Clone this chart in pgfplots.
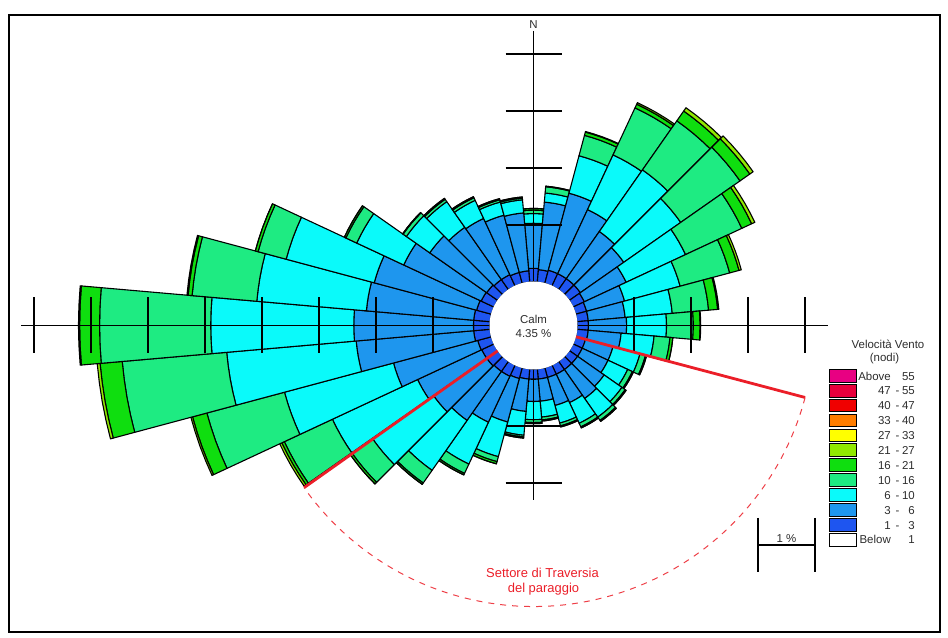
\documentclass[border=0pt]{standalone}
\usepackage{pgfplots}
\pgfplotsset{compat=1.18}
\usepackage{pgfplotstable}
\usepackage{fontspec}
\setmainfont{Liberation Sans}

\definecolor{wA}{RGB}{30,85,240}    % 1-3
\definecolor{wB}{RGB}{30,150,238}   % 3-6
\definecolor{wC}{RGB}{10,250,250}   % 6-10
\definecolor{wD}{RGB}{30,235,130}   % 10-16
\definecolor{wE}{RGB}{15,222,15}    % 16-21
\definecolor{wF}{RGB}{145,232,0}    % 21-27
\definecolor{wG}{RGB}{255,255,0}    % 27-33
\definecolor{wH}{RGB}{255,125,0}    % 33-40
\definecolor{wI}{RGB}{240,0,0}      % 40-47
\definecolor{wJ}{RGB}{232,0,60}     % 47-55
\definecolor{wK}{RGB}{232,0,130}    % above 55
\definecolor{tred}{RGB}{235,30,40}
\definecolor{tgray}{RGB}{45,45,45}

% cumulative frequency (%) per direction, bands 1-3, 3-6, 6-10, 10-16, 16-21, 21-27 knots
\pgfplotstableread{
dir c1 c2 c3 c4 c5 c6
0 0.24 1.03 1.20 1.26 1.29 1.29
10 0.22 1.41 1.57 1.68 1.69 1.69
20 0.24 1.64 2.32 2.69 2.75 2.76
30 0.24 1.48 2.54 3.45 3.52 3.55
40 0.24 1.25 2.57 3.62 3.83 3.90
50 0.24 1.17 2.39 3.66 3.87 3.94
60 0.22 1.03 2.18 3.27 3.46 3.52
70 0.20 0.89 1.90 2.80 2.97 3.01
80 0.20 0.85 1.68 2.32 2.48 2.50
90 0.20 0.87 1.57 2.04 2.16 2.17
100 0.20 0.78 1.36 1.64 1.69 1.69
110 0.18 0.68 1.17 1.27 1.29 1.29
120 0.18 0.68 1.06 1.15 1.17 1.17
130 0.18 0.75 1.13 1.20 1.22 1.22
140 0.18 0.80 1.20 1.27 1.29 1.29
150 0.18 0.73 1.13 1.20 1.22 1.22
160 0.18 0.69 1.01 1.06 1.08 1.08
170 0.18 0.57 0.85 0.90 0.92 0.92
180 0.18 0.57 0.89 0.94 0.96 0.96
190 0.18 0.75 1.17 1.20 1.22 1.22
200 0.20 0.99 1.62 1.71 1.75 1.75
210 0.22 1.11 1.92 2.10 2.13 2.13
220 0.22 1.27 2.34 2.61 2.64 2.64
230 0.24 1.38 2.69 3.13 3.17 3.17
240 0.24 1.48 3.13 4.06 4.11 4.15
250 0.25 1.78 3.76 5.17 5.43 5.46
260 0.29 2.36 4.64 6.48 6.87 6.92
270 0.29 2.39 4.90 6.85 7.20 7.22
280 0.29 2.18 4.11 5.25 5.32 5.34
290 0.27 2.13 3.73 4.24 4.29 4.29
300 0.25 1.75 2.66 2.87 2.90 2.90
310 0.24 1.46 1.96 2.03 2.04 2.04
320 0.22 1.34 1.89 1.94 1.96 1.96
330 0.22 1.31 1.66 1.71 1.73 1.73
340 0.20 1.24 1.48 1.52 1.54 1.54
350 0.20 1.22 1.45 1.48 1.50 1.50
}\rosetable

\def\roff{0.7632}% radius of the calm circle, in %

% one cell: #1 direction (deg from N), #2 inner, #3 outer cumulative %, #4 colour
\newcommand\rosecell[4]{%
  \pgfmathsetmacro\aA{90-#1-5}%
  \pgfmathsetmacro\aB{90-#1-2.5}%
  \pgfmathsetmacro\aC{90-#1}%
  \pgfmathsetmacro\aD{90-#1+2.5}%
  \pgfmathsetmacro\aE{90-#1+5}%
  \pgfmathsetmacro\rIn{#2+\roff}%
  \pgfmathsetmacro\rOut{#3+\roff}%
  \edef\tmp{\noexpand\addplot[forget plot, data cs=polar, fill=#4, draw=black,
    line width=1.1bp, line join=round]
    coordinates {(\aA,\rIn) (\aA,\rOut) (\aB,\rOut) (\aC,\rOut) (\aD,\rOut) (\aE,\rOut)
                 (\aE,\rIn) (\aD,\rIn) (\aC,\rIn) (\aB,\rIn)} -- cycle;}%
  \tmp}

\newcommand\lgfont{\fontsize{11.5}{13}\selectfont}

\begin{document}
\begin{tikzpicture}
\begin{axis}[
  at={(0,0)}, anchor=south west,
  x=57bp, y=57bp,
  xmin=-9.35965, xmax=7.27193, ymin=-5.46491, ymax=5.71053,
  hide axis, clip=false]
\pgfplotsinvokeforeach{0,...,35}{%
  \pgfplotstablegetelem{#1}{dir}\of\rosetable \let\dd\pgfplotsretval
  \pgfplotstablegetelem{#1}{c1}\of\rosetable \let\cA\pgfplotsretval
  \pgfplotstablegetelem{#1}{c2}\of\rosetable \let\cB\pgfplotsretval
  \pgfplotstablegetelem{#1}{c3}\of\rosetable \let\cC\pgfplotsretval
  \pgfplotstablegetelem{#1}{c4}\of\rosetable \let\cD\pgfplotsretval
  \pgfplotstablegetelem{#1}{c5}\of\rosetable \let\cE\pgfplotsretval
  \pgfplotstablegetelem{#1}{c6}\of\rosetable \let\cF\pgfplotsretval
  \rosecell{\dd}{0}{\cA}{wA}
  \rosecell{\dd}{\cA}{\cB}{wB}
  \rosecell{\dd}{\cB}{\cC}{wC}
  \rosecell{\dd}{\cC}{\cD}{wD}
  \rosecell{\dd}{\cD}{\cE}{wE}
  \rosecell{\dd}{\cE}{\cF}{wF}
}
\end{axis}

% overlay in pixel units (origin top-left, y downwards)
\begin{scope}[shift={(0bp,637bp)}, x=1bp, y=-1bp]
  \path (0,0) rectangle (948,637);
  \draw[line width=2bp] (8.5,15) rectangle (940,632);
  % compass axes
  \draw[line width=1.3bp] (21,325.5) -- (828,325.5);
  \draw[line width=1.3bp] (533.5,31) -- (533.5,500);
  \foreach \k in {1,...,8} \draw[line width=1.3bp] ({490-57*\k},297.5) -- ++(0,56);
  \foreach \k in {1,...,4} \draw[line width=1.3bp] ({577+57*\k},297.5) -- ++(0,56);
  \foreach \k in {1,...,4} \draw[line width=1.3bp] (505.5,{282-57*\k}) -- ++(56,0);
  \foreach \k in {1,2} \draw[line width=1.3bp] (505.5,{369+57*\k}) -- ++(56,0);
  \node[font=\lgfont, text=tgray, anchor=base] at (533.5,29) {N};
  % calm circle
  \fill[white] (533.5,325.5) circle[radius=44bp];
  \node[font=\lgfont, text=tgray, anchor=base] at (533.5,324) {Calm};
  \node[font=\lgfont, text=tgray, anchor=base] at (533.5,337.5) {4.35 \%};
  % sector of exposure
  \draw[tred, line width=2.8bp] (576.0,336.8) -- (805.1,397.5);
  \draw[tred, line width=2.8bp] (497.6,350.9) -- (304.0,487.7);
  \draw[tred!85, line width=1bp, dash pattern=on 6bp off 6bp]
     (805.1,397.5) arc[start angle=14.85, end angle=144.75, radius=281];
  \node[font=\fontsize{13}{15}\selectfont, text=tred, anchor=base] at (542.5,578) {Settore di Traversia};
  \node[font=\fontsize{13}{15}\selectfont, text=tred, anchor=base] at (543.5,592.5) {del paraggio};
  % scale bar
  \draw[line width=1.3bp] (758,518) -- (758,572);
  \draw[line width=1.3bp] (815,518) -- (815,572);
  \draw[line width=1.3bp] (758,545) -- (815,545);
  \node[font=\lgfont, text=tgray, anchor=base] at (786.5,542.5) {1 \%};
  % legend
  \node[font=\lgfont, text=tgray, anchor=base] at (888,349) {Velocità Vento};
  \node[font=\lgfont, text=tgray, anchor=base] at (884.5,362) {(nodi)};
  \foreach \i/\c/\l/\r in {0/wK/Above/55, 1/wJ/47/55, 2/wI/40/47, 3/wH/33/40,
      4/wG/27/33, 5/wF/21/27, 6/wE/16/21, 7/wD/10/16, 8/wC/6/10, 9/wB/3/6,
      10/wA/1/3, 11/white/Below/1} {
    \draw[fill=\c, line width=1bp] (829.5,{369.5+14.9*\i}) rectangle (856,{382.2+14.9*\i});
    \node[font=\lgfont, text=tgray, anchor=base east, inner sep=0pt] at (891,{380.1+14.9*\i}) {\l};
    \node[font=\lgfont, text=tgray, anchor=base east, inner sep=0pt] at (915,{380.1+14.9*\i}) {\r};
  }
  \foreach \i in {1,...,10}
    \node[font=\lgfont, text=tgray, anchor=base, inner sep=0pt] at (897.5,{380.1+14.9*\i}) {-};
\end{scope}
\end{tikzpicture}
\end{document}
